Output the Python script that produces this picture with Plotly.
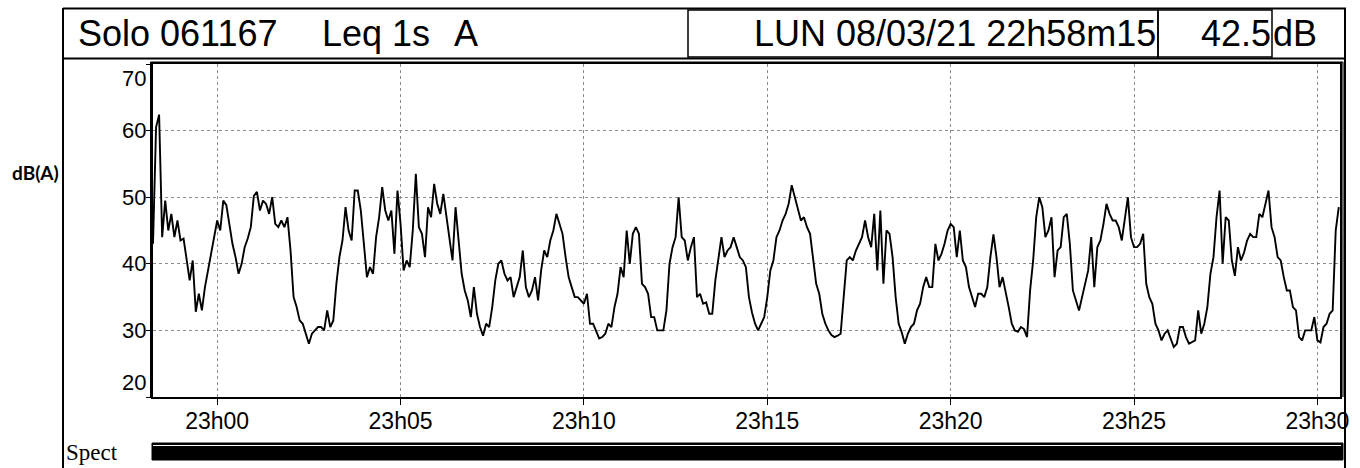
import plotly.graph_objects as go
import pandas as pd

# ---------------- data ----------------
start_time = "2021-03-08 22:58:15"
end_time = "2021-03-08 23:30:37"
step_seconds = 5
leq_db = [
    43, 60.5, 62.4, 44, 49.5, 45, 47.5, 44, 46.5, 43.5,
    43.8, 40.5, 37.5, 40.5, 32.8, 35.5, 33, 36.5, 39, 41.5,
    43.5, 46.5, 45, 49.5, 48.8, 45.5, 43, 41, 38.5, 40,
    42.5, 43.8, 45.5, 50.2, 50.8, 48, 49.5, 49, 47.5, 50,
    46, 45.5, 46.5, 45.5, 47, 42, 35, 33.5, 31.5, 31,
    29.5, 28, 29.5, 30, 30.5, 30.5, 30, 33, 30.5, 31.5,
    37, 41, 43.5, 48.5, 45, 43.5, 51, 51, 48, 43,
    38, 39.5, 38.5, 44, 47, 51.5, 48, 46.5, 48, 41.5,
    51, 46, 39, 40.5, 39.5, 45, 53.5, 45.5, 44.5, 41,
    48.5, 47, 52, 49, 47.5, 50.5, 47, 44, 40.5, 48.5,
    43, 38.5, 36, 34.5, 32, 36.5, 32.5, 30.5, 29.2, 31,
    30.5, 33.5, 37.5, 40, 40.5, 38.5, 37.5, 38, 35, 36.5,
    38, 42, 36.5, 35, 36, 38, 34.5, 39, 42, 41,
    43.5, 45, 47.5, 46, 44.5, 41, 38, 36.5, 35, 35,
    34.5, 34, 35.5, 31, 31, 30, 28.8, 29, 29.5, 31,
    30.5, 33.5, 35.5, 39.5, 38, 45, 40, 44.5, 45.5, 44.5,
    37, 36.5, 35.5, 32, 32, 30, 30, 30, 33, 40,
    42.5, 44, 50, 44, 43.5, 40.5, 42.5, 44, 35, 35.5,
    34, 34.2, 32.5, 32.5, 37.5, 40.5, 44, 41, 42, 42.5,
    44, 42.5, 41, 40.5, 39.5, 35, 32.7, 31, 30, 31,
    32, 35, 39, 40.5, 44, 45, 46.5, 47.5, 49, 51.8,
    50, 48, 46.5, 47, 45.5, 44.5, 40.5, 37, 35.5, 32.5,
    31, 30, 29.3, 29, 29.2, 29.5, 35, 40.5, 41, 40.5,
    42, 43, 44, 46.5, 44, 42.5, 47.5, 39, 48, 37,
    45, 44.5, 41, 35, 31, 29.7, 28, 29.5, 30.5, 31,
    33, 34, 36.5, 38, 36.5, 36.5, 43, 40.5, 41.5, 43,
    45, 46, 45.5, 41, 45, 40.5, 39.5, 36.5, 35, 33.5,
    35.5, 35.5, 35, 36.5, 41, 44.4, 41, 36.5, 38, 36,
    33.5, 31, 30, 29.8, 30.5, 30.2, 29, 36, 40.5, 47,
    50, 48.5, 44, 45, 47, 38, 42, 42.5, 47, 47.5,
    43, 36, 34.5, 33, 35, 37, 39, 44, 36.5, 42.5,
    43.5, 46, 49, 47.5, 46.5, 46.5, 45.5, 43.5, 47, 50,
    44, 42.5, 42.5, 43, 44.5, 37, 35, 34, 31, 30,
    28.5, 29.5, 30, 28.8, 27.5, 28, 30.5, 30.5, 29, 28,
    28.2, 28.5, 33, 29.5, 31, 33.5, 38.5, 41, 47, 51,
    40, 47, 46.5, 40.5, 38.2, 42.5, 40.5, 41.7, 43.5, 44.5,
    44, 44, 47.5, 47, 49, 51, 45.5, 44, 41, 40.5,
    38, 36, 36, 33.5, 33, 29, 28.5, 30, 30, 30,
    32, 28.5, 28.2, 30.5, 31, 32.5, 33, 45, 48.5,
]
y_tick_values = [70, 60, 50, 40, 30, 20]
x_tick_times = ["2021-03-08 23:00", "2021-03-08 23:05", "2021-03-08 23:10",
                "2021-03-08 23:15", "2021-03-08 23:20", "2021-03-08 23:25",
                "2021-03-08 23:30"]
header_title = "Solo 061167"
header_mode = "Leq 1s"
header_weight = "A"
header_date = "LUN 08/03/21 22h58m15"
header_value = "42.5"
header_unit = "dB"
y_label = "dB(A)"
spect_label = "Spect"

times = pd.date_range(start_time, periods=len(leq_db), freq=f"{step_seconds}s")

# ---------------- layout geometry (pixels) ----------------
W, H = 1360, 468
L, R, T, B = 153, 1340, 64, 397


def fx(px):
    return (px - L) / (R - L)


def fy(py):
    return (B - py) / (B - T)


SANS = "Liberation Sans, Arial, sans-serif"

fig = go.Figure(
    go.Scatter(x=times, y=leq_db, mode="lines",
               line=dict(color="black", width=1.9), hoverinfo="skip")
)

fig.update_layout(
    width=W, height=H,
    margin=dict(l=L, r=W - R, t=T, b=H - B, pad=0),
    paper_bgcolor="white", plot_bgcolor="white",
    showlegend=False,
)

fig.update_xaxes(
    type="date", range=[start_time, end_time],
    tickvals=x_tick_times, tickformat="%Hh%M",
    showgrid=True, gridcolor="#8c8c8c", griddash="dot", gridwidth=1,
    showline=True, linecolor="black", linewidth=2, mirror=True,
    ticks="outside", ticklen=6, tickcolor="black", tickwidth=1,
    tickfont=dict(family=SANS, size=23, color="black"),
    ticklabelstandoff=-4,
    zeroline=False,
)
fig.update_yaxes(
    range=[20, 70], tickvals=y_tick_values, showticklabels=False,
    showgrid=True, gridcolor="#8c8c8c", griddash="dot", gridwidth=1,
    showline=True, linecolor="black", linewidth=2, mirror=True,
    ticks="outside", ticklen=5, tickcolor="black", tickwidth=1,
    zeroline=False,
)

annotations = []
# y tick labels
for v in y_tick_values:
    anchor = "top" if v == max(y_tick_values) else ("bottom" if v == min(y_tick_values) else "middle")
    annotations.append(dict(
        x=fx(148), xref="paper", xanchor="right",
        y=v, yref="y", yanchor=anchor, text=str(v), showarrow=False,
        font=dict(family=SANS, size=22, color="black"),
    ))

# header texts
hdr_font = dict(family=SANS, size=36, color="black")
hdr_y = fy(33)
annotations += [
    dict(x=fx(76), y=hdr_y, xref="paper", yref="paper", xanchor="left", yanchor="middle",
         text=header_title, showarrow=False, font=hdr_font),
    dict(x=fx(320), y=hdr_y, xref="paper", yref="paper", xanchor="left", yanchor="middle",
         text=header_mode, showarrow=False, font=hdr_font),
    dict(x=fx(452), y=hdr_y, xref="paper", yref="paper", xanchor="left", yanchor="middle",
         text=header_weight, showarrow=False, font=hdr_font),
    dict(x=fx(1158), y=hdr_y, xref="paper", yref="paper", xanchor="right", yanchor="middle",
         text=header_date, showarrow=False, font=hdr_font),
    dict(x=fx(1273), y=hdr_y, xref="paper", yref="paper", xanchor="right", yanchor="middle",
         text=header_value, showarrow=False, font=hdr_font),
    dict(x=fx(1271), y=hdr_y, xref="paper", yref="paper", xanchor="left", yanchor="middle",
         text=header_unit, showarrow=False, font=hdr_font),
    dict(x=fx(35), y=fy(172), xref="paper", yref="paper", xanchor="center", yanchor="middle",
         text="<b>" + y_label + "</b>", showarrow=False,
         font=dict(family="Lato, Open Sans, sans-serif", size=19, color="black")),
    dict(x=fx(64), y=fy(452), xref="paper", yref="paper", xanchor="left", yanchor="middle",
         text=spect_label, showarrow=False,
         font=dict(family="Liberation Serif, Times New Roman, serif", size=23, color="black")),
]
fig.update_layout(annotations=annotations)


def hline(x0, x1, y, w=2, color="black"):
    return dict(type="line", xref="paper", yref="paper", x0=fx(x0), x1=fx(x1),
                y0=fy(y), y1=fy(y), line=dict(color=color, width=w), layer="above")


def vline(x, y0, y1, w=2, color="black"):
    return dict(type="line", xref="paper", yref="paper", x0=fx(x), x1=fx(x),
                y0=fy(y0), y1=fy(y1), line=dict(color=color, width=w), layer="above")


shapes = [
    # header frame
    hline(63, 1346, 8.5, 2),
    hline(63, 1346, 58.5, 2),
    vline(63, 8, 470, 2),
    vline(1345, 8, 470, 2),
    # inner header boxes
    dict(type="rect", xref="paper", yref="paper", x0=fx(688), x1=fx(1158), y0=fy(57), y1=fy(10),
         line=dict(color="black", width=1.5), layer="above"),
    dict(type="rect", xref="paper", yref="paper", x0=fx(1158), x1=fx(1272), y0=fy(57), y1=fy(10),
         line=dict(color="black", width=1.5), layer="above"),
    # double border of the plot area
    vline(150.5, 62, 397, 1),
    vline(1343, 62, 397, 1.2),
    hline(150.5, 1343, 62, 1),
    # spectrum bar
    dict(type="rect", xref="paper", yref="paper", x0=fx(152), x1=fx(1343), y0=fy(460), y1=fy(443),
         fillcolor="black", line=dict(color="black", width=1), layer="above"),
    hline(153, 1341, 445.5, 1, "white"),
]
fig.update_layout(shapes=shapes)

fig.write_html("out.html")
